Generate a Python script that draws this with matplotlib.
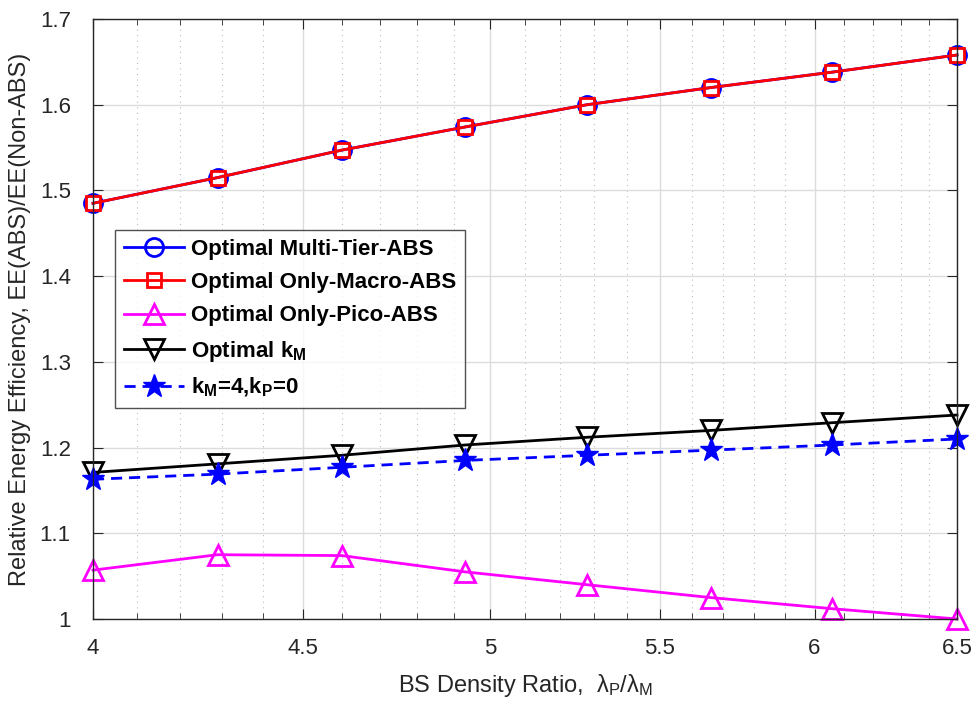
"""Relative energy efficiency of ABS schemes versus BS density ratio."""

import matplotlib.pyplot as plt
from matplotlib.ticker import FixedLocator, NullFormatter

plt.rcParams["font.family"] = ["Liberation Sans", "DejaVu Sans"]
plt.rcParams["mathtext.fontset"] = "custom"
plt.rcParams["mathtext.rm"] = "Liberation Sans"
plt.rcParams["mathtext.it"] = "Liberation Sans"
plt.rcParams["mathtext.bf"] = "Liberation Sans:bold"

density_ratio = [4.0, 4.29, 4.6, 4.93, 5.28, 5.66, 6.06, 6.5]

ee_multi_tier = [1.485, 1.515, 1.547, 1.574, 1.600, 1.620, 1.638, 1.658]
ee_only_macro = [1.485, 1.515, 1.547, 1.574, 1.600, 1.620, 1.638, 1.658]
ee_only_pico = [1.057, 1.075, 1.074, 1.055, 1.040, 1.025, 1.012, 1.000]
ee_optimal_km = [1.171, 1.181, 1.191, 1.203, 1.212, 1.220, 1.229, 1.238]
ee_fixed_k = [1.163, 1.169, 1.177, 1.185, 1.191, 1.197, 1.203, 1.210]

x_ticks = [4, 4.5, 5, 5.5, 6, 6.5]
x_tick_labels = ["4", "4.5", "5", "5.5", "6", "6.5"]
y_ticks = [1.0, 1.1, 1.2, 1.3, 1.4, 1.5, 1.6, 1.7]
y_tick_labels = ["1", "1.1", "1.2", "1.3", "1.4", "1.5", "1.6", "1.7"]

fig = plt.figure(figsize=(9.78, 7.16), dpi=100)
ax = fig.add_axes([93 / 978, 1 - 619 / 716, 864 / 978, 600 / 716])

lw = 2.0
style = dict(lw=lw, mfc="none", mew=2.0, clip_on=False)
ax.plot(density_ratio, ee_multi_tier, color="blue", marker="o", ms=13,
        label="Optimal Multi-Tier-ABS", **style)
ax.plot(density_ratio, ee_only_macro, color="red", marker="s", ms=10,
        label="Optimal Only-Macro-ABS", **style)
ax.plot(density_ratio, ee_only_pico, color="magenta", marker="^", ms=15,
        label="Optimal Only-Pico-ABS", **style)
ax.plot(density_ratio, ee_optimal_km, color="black", marker="v", ms=15,
        label=r"Optimal k$_\mathbf{M}$", **style)
ax.plot(density_ratio, ee_fixed_k, color="blue", lw=lw, ls=(0, (4, 2.5)), marker="*",
        ms=17, mfc="blue", mew=1.0, clip_on=False,
        label=r"k$_\mathbf{M}$=4,k$_\mathbf{P}$=0")

ax.set_xscale("log")
ax.set_xlim(4, 6.5)
ax.set_ylim(1.0, 1.7)
ax.xaxis.set_major_locator(FixedLocator(x_ticks))
ax.set_xticklabels(x_tick_labels)
ax.xaxis.set_minor_locator(FixedLocator([4 + 0.1 * i for i in range(1, 25) if i % 5]))
ax.xaxis.set_minor_formatter(NullFormatter())
ax.set_yticks(y_ticks)
ax.set_yticklabels(y_tick_labels)

ax.grid(True, which="major", color="#dcdcdc", lw=1.0)
ax.grid(True, which="minor", axis="x", color="#bbbbbb", lw=0.8, ls=(0, (1, 4)))
ax.set_axisbelow(True)

ax.tick_params(which="both", direction="in", top=True, right=True,
               labelsize=16, colors="#262626", length=7)
ax.tick_params(axis="x", which="major", pad=14)
ax.tick_params(axis="y", which="major", pad=16)
ax.tick_params(which="minor", length=4)
for spine in ax.spines.values():
    spine.set_color("#262626")
    spine.set_linewidth(1.0)

ax.set_xlabel(r"BS Density Ratio,  $\lambda_\mathrm{P}/\lambda_\mathrm{M}$", fontsize=17,
              color="#262626", labelpad=9)
ax.set_ylabel("Relative Energy Efficiency, EE(ABS)/EE(Non-ABS)", fontsize=17,
              color="#262626", labelpad=6)

leg = ax.legend(loc="upper left", bbox_to_anchor=(22 / 864, 389 / 600),
                borderaxespad=0,
                prop={"family": "Liberation Sans", "weight": "bold", "size": 16},
                frameon=True, fancybox=False, edgecolor="#262626",
                handlelength=2.7, handletextpad=0.3, borderpad=0.4, labelspacing=0.55)
leg.get_frame().set_linewidth(1.0)

fig.savefig("out.png", dpi=100)
